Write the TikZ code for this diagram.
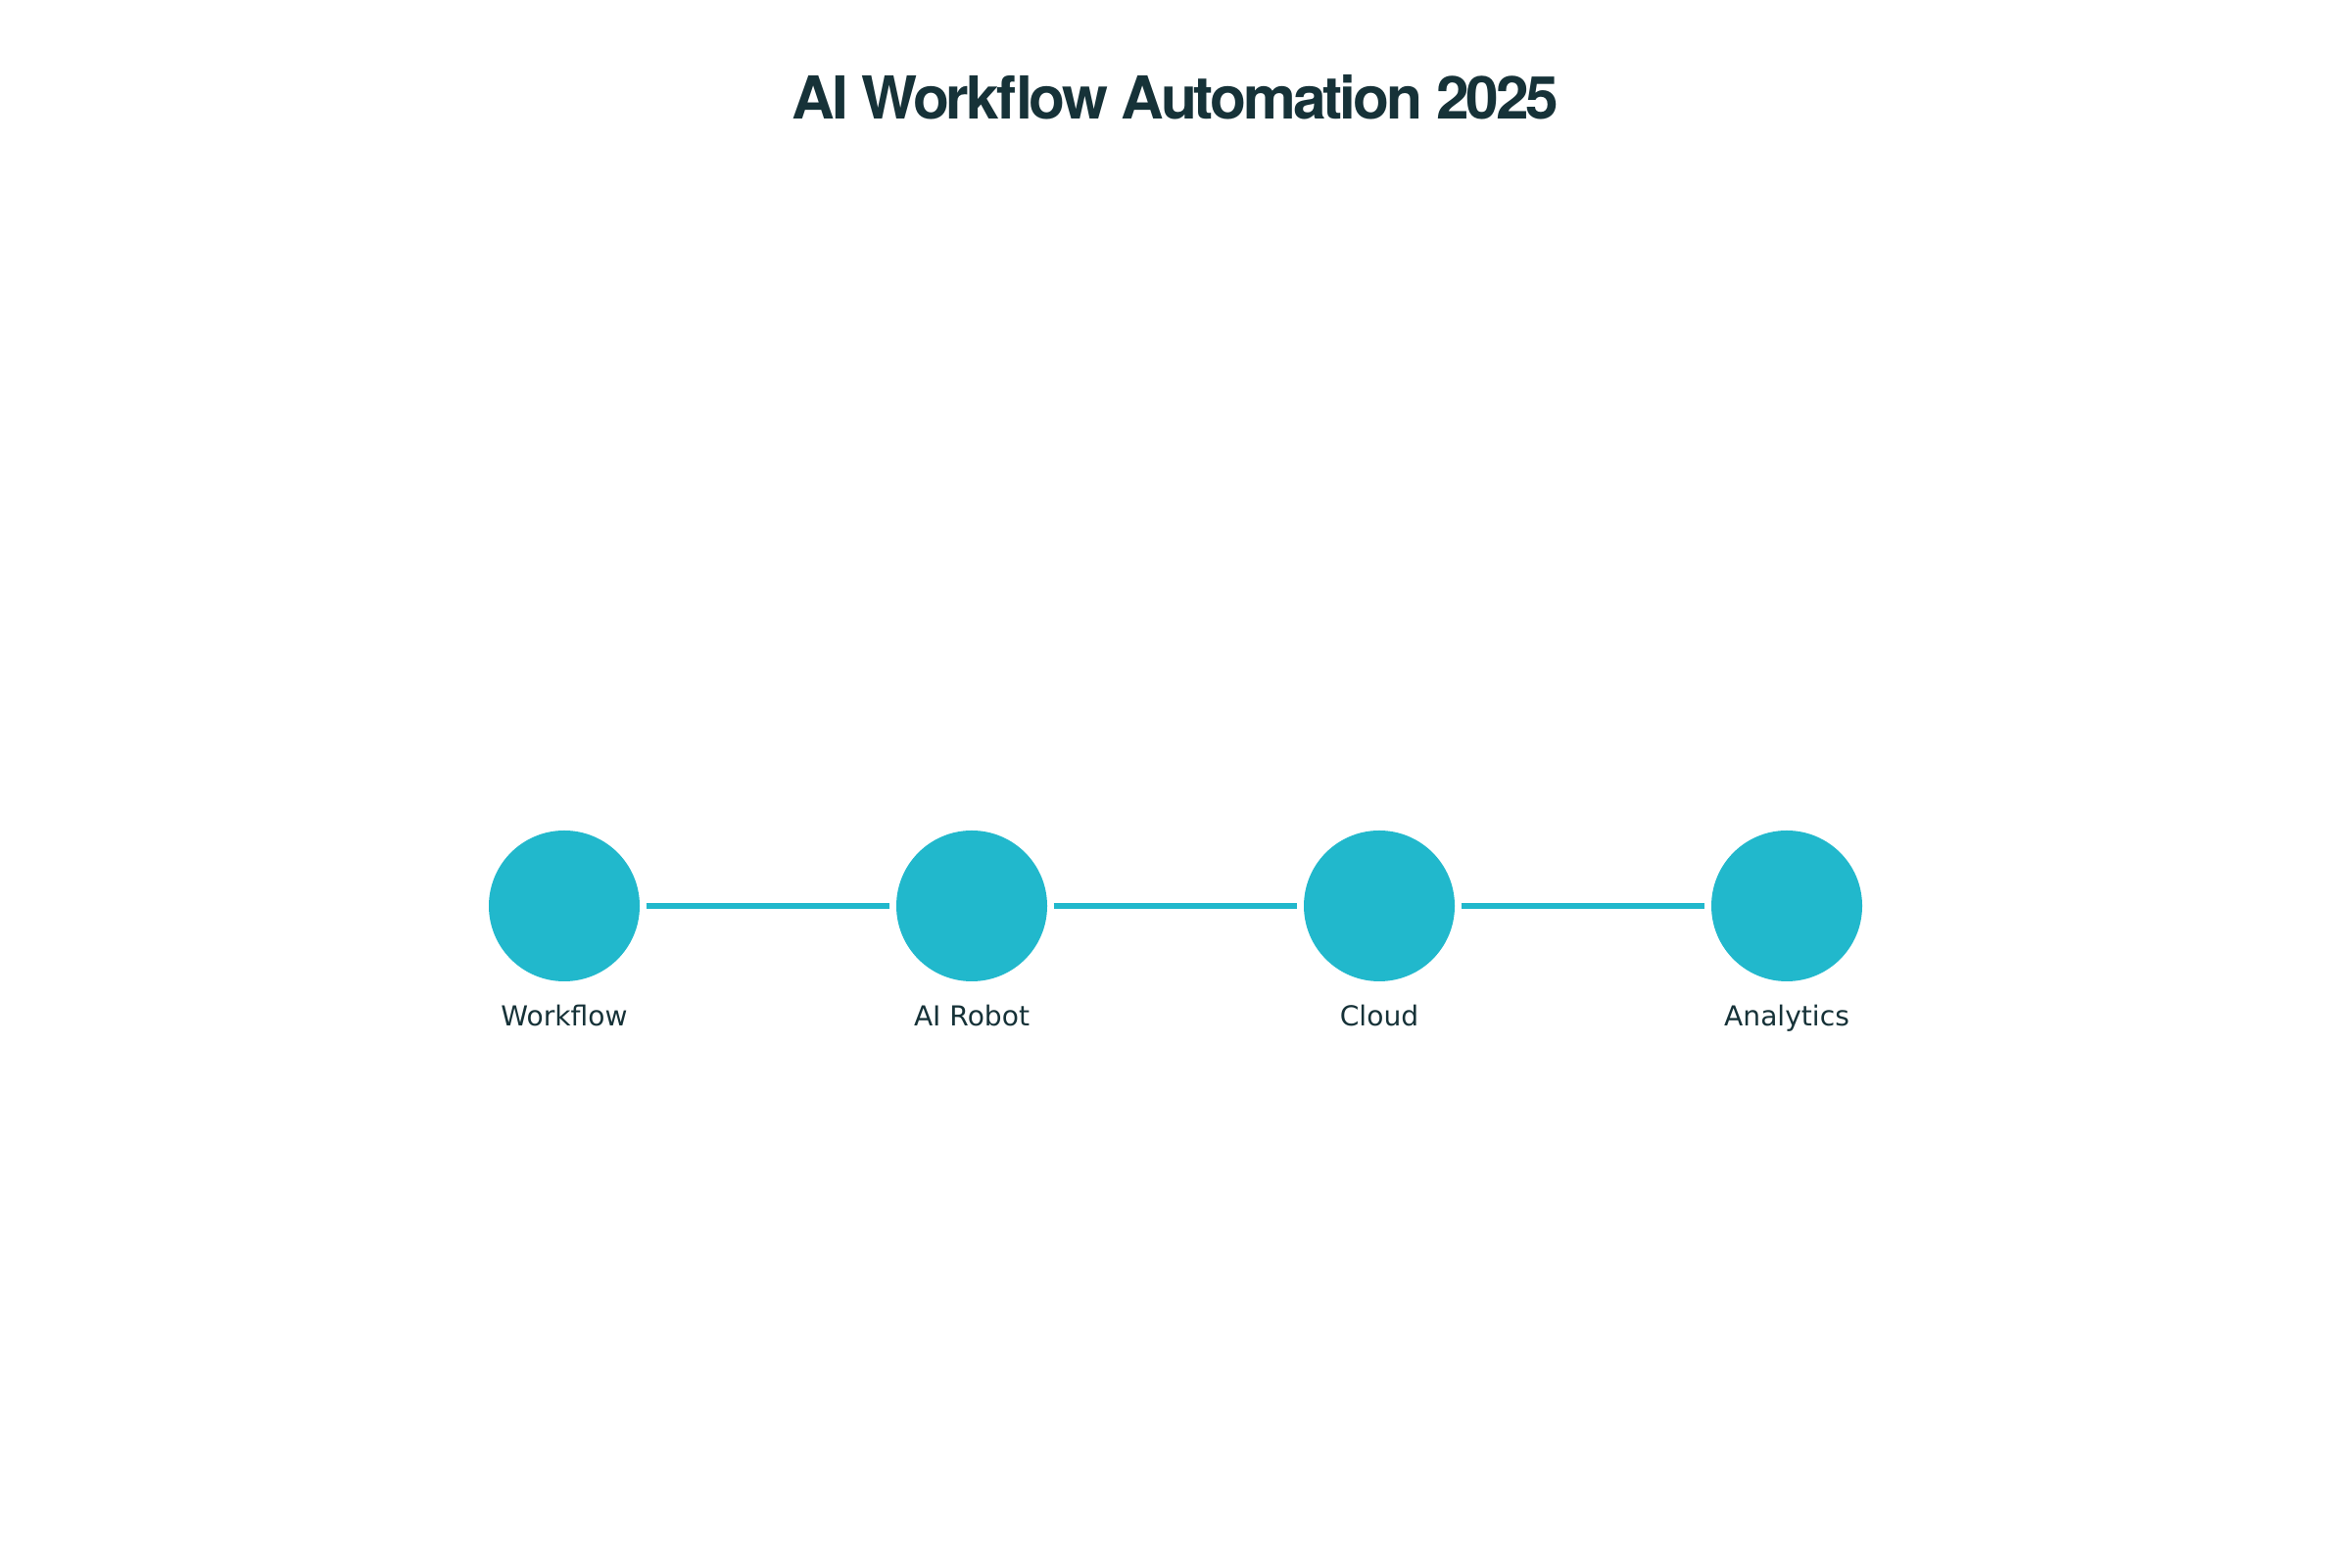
\documentclass[tikz,border=0pt]{standalone}
\usepackage{fontspec}
\setmainfont{DejaVu Sans}
\newfontfamily\titlefont[LetterSpace=-5.0]{TeX Gyre Heros}
\definecolor{nodecol}{HTML}{21B8CC}
\definecolor{textcol}{HTML}{163238}
\begin{document}
\begin{tikzpicture}[
  stepnode/.style={circle, fill=nodecol, draw=none, minimum size=1.54cm, inner sep=0pt},
  steplabel/.style={anchor=base, text=textcol, font=\fontsize{8pt}{9.5pt}\selectfont, inner sep=0pt},
  linkline/.style={draw=nodecol, line width=1.71pt, shorten >=0.06cm, shorten <=0.06cm},
  titlestyle/.style={anchor=base, text=textcol, font=\titlefont\bfseries\fontsize{17.2pt}{20pt}\selectfont, inner sep=0pt}
]
\useasboundingbox (0,0) rectangle (24,16);
\fill[white] (0,0) rectangle (24,16);
\node[titlestyle] (title) at (12,14.785) {AI Workflow Automation 2025};
\node[stepnode] (n1) at (5.76,6.75) {};
\node[stepnode] (n2) at (9.92,6.75) {};
\node[stepnode] (n3) at (14.08,6.75) {};
\node[stepnode] (n4) at (18.24,6.75) {};
\node[steplabel] (l1) at (5.76,5.52) {Workflow};
\node[steplabel] (l2) at (9.92,5.52) {AI Robot};
\node[steplabel] (l3) at (14.08,5.52) {Cloud};
\node[steplabel] (l4) at (18.24,5.52) {Analytics};
\draw[linkline] (n1) -- (n2);
\draw[linkline] (n2) -- (n3);
\draw[linkline] (n3) -- (n4);
\end{tikzpicture}
\end{document}
